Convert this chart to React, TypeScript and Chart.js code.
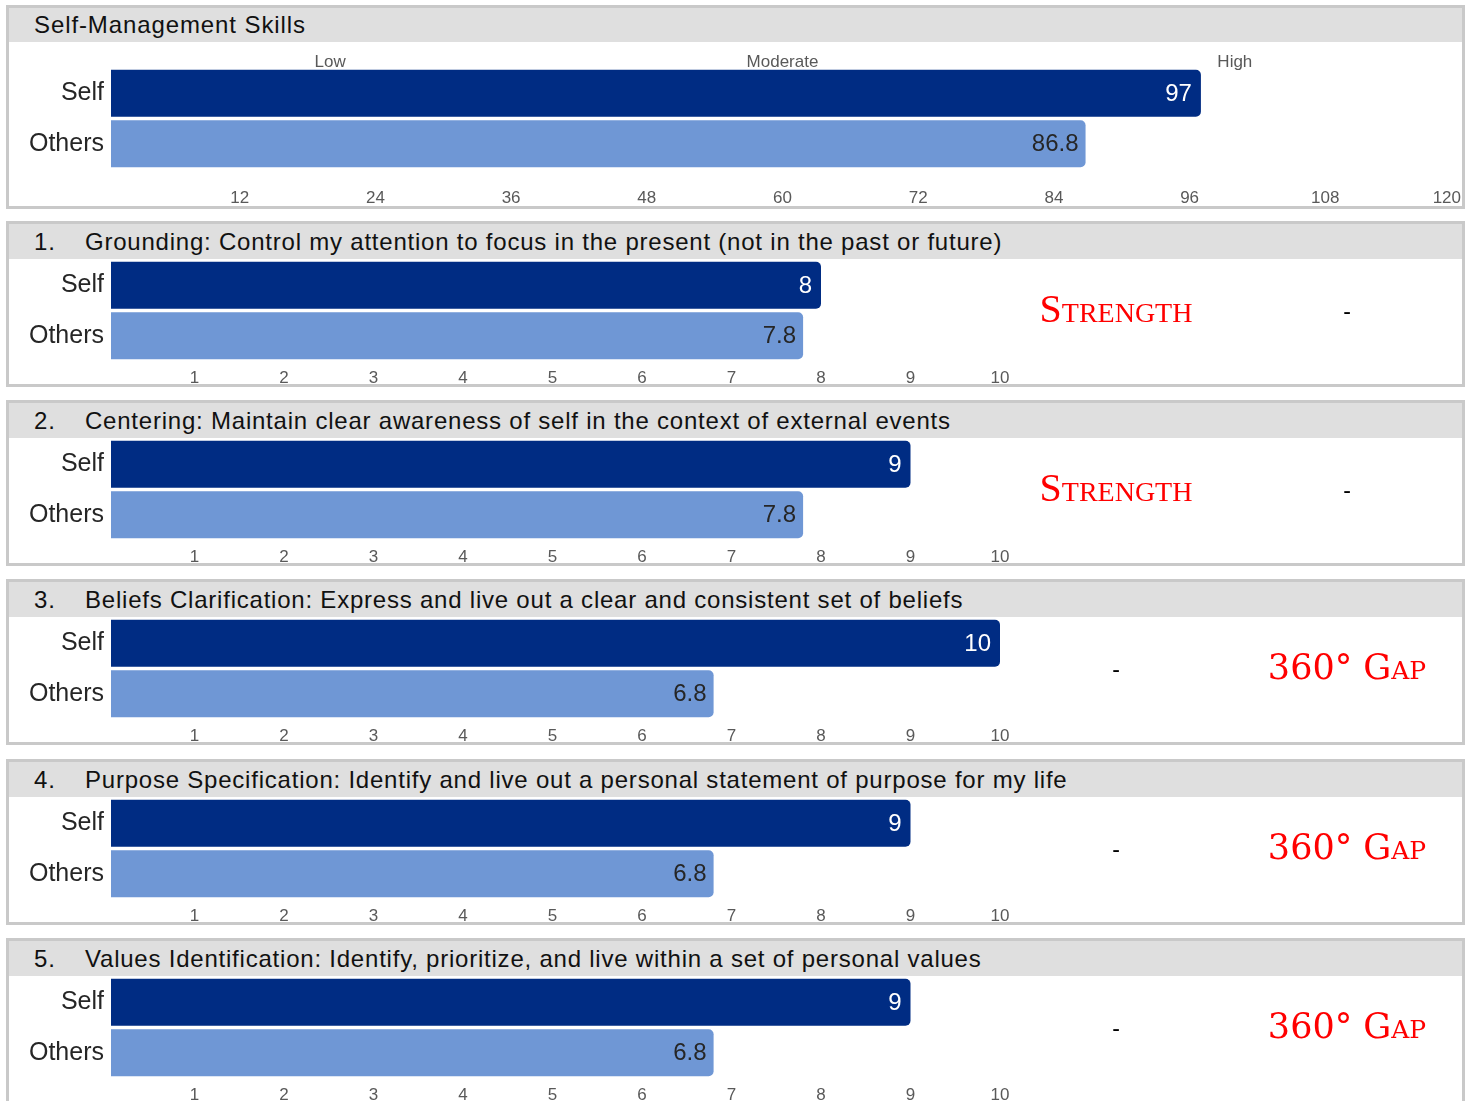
import React, { useEffect, useRef } from "react";
import { Chart, registerables } from "chart.js";

Chart.register(...registerables);

// ---------------- DATA ----------------
const categories = ["Self", "Others"];

const overallTitle = "Self-Management Skills";
const overallValues = [97, 86.8];
const overallTickValues = [12, 24, 36, 48, 60, 72, 84, 96, 108, 120];
const levelLabels = ["Low", "Moderate", "High"];
const levelValues = [20, 60, 100];

const skillNumbers = ["1.", "2.", "3.", "4.", "5."];
const skillTitles = [
  "Grounding: Control my attention to focus in the present (not in the past or future)",
  "Centering: Maintain clear awareness of self in the context of external events",
  "Beliefs Clarification: Express and live out a clear and consistent set of beliefs",
  "Purpose Specification: Identify and live out a personal statement of purpose for my life",
  "Values Identification: Identify, prioritize, and live within a set of personal values",
];
const selfScores = [8, 9, 10, 9, 9];
const othersScores = [7.8, 7.8, 6.8, 6.8, 6.8];
const skillTickValues = [1, 2, 3, 4, 5, 6, 7, 8, 9, 10];
const strengthColumn = ["Strength", "Strength", "-", "-", "-"];
const gapColumn = ["-", "-", "360° Gap", "360° Gap", "360° Gap"];

// ---------------- STYLE ----------------
const SANS = '"Liberation Sans", Arial, sans-serif';
const SELF_COLOR = "#002C83";
const OTHERS_COLOR = "#6F97D5";
const BORDER_COLOR = "#c9c9c9";
const HEADER_BG = "#dfdfdf";

const valueLabelPlugin = {
  id: "valueLabels",
  afterDatasetsDraw(chart: any) {
    const ctx = chart.ctx;
    const meta = chart.getDatasetMeta(0);
    const data = chart.data.datasets[0].data;
    ctx.save();
    ctx.font = `24px ${SANS}`;
    ctx.textAlign = "right";
    ctx.textBaseline = "middle";
    meta.data.forEach((el: any, i: number) => {
      ctx.fillStyle = i === 0 ? "#ffffff" : "#262626";
      ctx.fillText(String(data[i]), el.x - (i === 0 ? 9 : 7), el.y + 1);
    });
    ctx.restore();
  },
};

// lets the top level labels sit just above the bars without being clipped
const topAxisShiftPlugin = {
  id: "topAxisShift",
  afterLayout(chart: any) {
    const s = chart.scales.x2;
    if (s) {
      s.top += 6;
      s.bottom += 6;
    }
  },
};

type BarProps = {
  left: number;
  top: number;
  width: number;
  height: number;
  values: number[];
  min: number;
  max: number;
  tickValues: number[];
  lastPad?: string;
  topValues?: number[];
  topLabels?: string[];
  padTop: number;
  padRight: number;
  padBottom: number;
  bottomAxisHeight: number;
  tickPadding: number;
  topAxisHeight?: number;
  yWidth: number;
};

function BarPanel(p: BarProps) {
  const ref = useRef<HTMLCanvasElement | null>(null);
  useEffect(() => {
    if (!ref.current) return;
    const scales: any = {
      x: {
        type: "linear",
        position: "bottom",
        min: p.min,
        max: p.max,
        grid: { display: false, drawTicks: false },
        border: { display: false },
        afterBuildTicks: (s: any) => {
          s.ticks = p.tickValues.map((v) => ({ value: v }));
        },
        ticks: {
          autoSkip: false,
          maxRotation: 0,
          padding: p.tickPadding,
          color: "#595959",
          font: { family: SANS, size: 17 },
          callback: (_v: any, i: number) =>
            String(p.tickValues[i]) + (i === p.tickValues.length - 1 && p.lastPad ? p.lastPad : ""),
        },
        afterFit: (s: any) => {
          s.height = p.bottomAxisHeight;
          s.paddingLeft = 0;
          s.paddingRight = 0;
        },
      },
      y: {
        type: "category",
        grid: { display: false, drawTicks: false },
        border: { display: false },
        ticks: { padding: 7, color: "#262626", font: { family: SANS, size: 25 } },
        afterFit: (s: any) => {
          s.width = p.yWidth;
          s.paddingTop = 0;
          s.paddingBottom = 0;
        },
      },
    };
    if (p.topValues && p.topLabels) {
      const tv = p.topValues;
      const tl = p.topLabels;
      scales.x2 = {
        type: "linear",
        position: "top",
        min: p.min,
        max: p.max,
        grid: { display: false, drawTicks: false },
        border: { display: false },
        afterBuildTicks: (s: any) => {
          s.ticks = tv.map((v) => ({ value: v }));
        },
        ticks: {
          autoSkip: false,
          maxRotation: 0,
          padding: 1,
          color: "#595959",
          font: { family: SANS, size: 17 },
          callback: (_v: any, i: number) => tl[i],
        },
        afterFit: (s: any) => {
          s.height = p.topAxisHeight || 26;
          s.paddingLeft = 0;
          s.paddingRight = 0;
        },
      };
    }
    const chart = new Chart(ref.current, {
      type: "bar",
      data: {
        labels: categories,
        datasets: [
          {
            data: p.values,
            backgroundColor: [SELF_COLOR, OTHERS_COLOR],
            barPercentage: 0.93,
            categoryPercentage: 1,
            borderRadius: 5,
            borderSkipped: "start",
            xAxisID: "x",
            yAxisID: "y",
          },
        ],
      },
      options: {
        indexAxis: "y",
        responsive: false,
        animation: false,
        devicePixelRatio: 1,
        layout: { padding: { top: p.padTop, right: p.padRight, bottom: p.padBottom, left: 0 } },
        plugins: { legend: { display: false }, tooltip: { enabled: false } },
        scales,
      },
      plugins: [valueLabelPlugin, topAxisShiftPlugin],
    } as any);
    return () => chart.destroy();
  }, []);
  return (
    <canvas
      ref={ref}
      width={p.width}
      height={p.height}
      style={{ position: "absolute", left: p.left, top: p.top, width: p.width, height: p.height }}
    />
  );
}

function Box({ left, top, width, height }: { left: number; top: number; width: number; height: number }) {
  return (
    <div
      style={{
        position: "absolute",
        left,
        top,
        width,
        height,
        border: `3px solid ${BORDER_COLOR}`,
        boxSizing: "border-box",
      }}
    />
  );
}

function SideText({ text, cx, cy }: { text: string; cx: number; cy: number }) {
  let style: any = { fontFamily: SANS, fontSize: 23, color: "#000" };
  let dy = 0;
  if (text === "Strength") {
    style = { fontFamily: '"Liberation Serif", "Times New Roman", serif', fontSize: 40, color: "#ff0000", fontVariant: "small-caps" };
    dy = -2;
  } else if (text !== "-") {
    style = { fontFamily: '"DejaVu Serif", serif', fontSize: 35, color: "#ff0000", fontVariant: "small-caps" };
    dy = -2;
  }
  return (
    <div
      style={{
        position: "absolute",
        left: cx - 150,
        top: cy - 30 + dy,
        width: 300,
        height: 60,
        lineHeight: "60px",
        textAlign: "center",
        whiteSpace: "nowrap",
        ...style,
      }}
    >
      {text}
    </div>
  );
}

const PANEL_TOPS = [221, 400, 579, 759, 938];

const headerText: any = {
  position: "absolute",
  fontSize: 24,
  letterSpacing: "0.78px",
};

export default function App() {
  return (
    <div
      style={{
        position: "absolute",
        left: 0,
        top: 0,
        width: 1479,
        height: 1101,
        overflow: "hidden",
        background: "#ffffff",
        fontFamily: SANS,
      }}
    >
      {/* Overall panel */}
      <Box left={6} top={5} width={1459} height={204} />
      <div
        style={{
          position: "absolute",
          left: 9,
          top: 8,
          width: 1453,
          height: 34,
          background: HEADER_BG,
          lineHeight: "34px",
          color: "#111",
          whiteSpace: "nowrap",
        }}
      >
        <span style={{ ...headerText, left: 25, letterSpacing: "0.9px" }}>{overallTitle}</span>
      </div>
      <BarPanel
        left={9}
        top={42}
        width={1467}
        height={163}
        values={overallValues}
        min={0.62}
        max={120}
        tickValues={overallTickValues}
        lastPad={"\u2007\u2007\u2007"}
        topValues={levelValues}
        topLabels={levelLabels}
        topAxisHeight={26}
        padTop={0}
        padRight={15}
        padBottom={1}
        bottomAxisHeight={35}
        tickPadding={19}
        yWidth={102}
      />

      {PANEL_TOPS.map((T, i) => (
        <React.Fragment key={i}>
          <Box left={6} top={T} width={1459} height={166} />
          <div
            style={{
              position: "absolute",
              left: 9,
              top: T + 3,
              width: 1453,
              height: 35,
              background: HEADER_BG,
              lineHeight: "35px",
              color: "#111",
              whiteSpace: "nowrap",
            }}
          >
            <span style={{ ...headerText, left: 25 }}>{skillNumbers[i]}</span>
            <span style={{ ...headerText, left: 76 }}>{skillTitles[i]}</span>
          </div>
          <BarPanel
            left={9}
            top={T + 38}
            width={1001}
            height={127}
            values={[selfScores[i], othersScores[i]]}
            min={0.067}
            max={10}
            tickValues={skillTickValues}
            padTop={1}
            padRight={10}
            padBottom={1}
            bottomAxisHeight={24}
            tickPadding={7}
            yWidth={102}
          />
          <SideText text={strengthColumn[i]} cx={1116} cy={T + 90} />
          <SideText text={gapColumn[i]} cx={1347} cy={T + 90} />
        </React.Fragment>
      ))}
    </div>
  );
}
